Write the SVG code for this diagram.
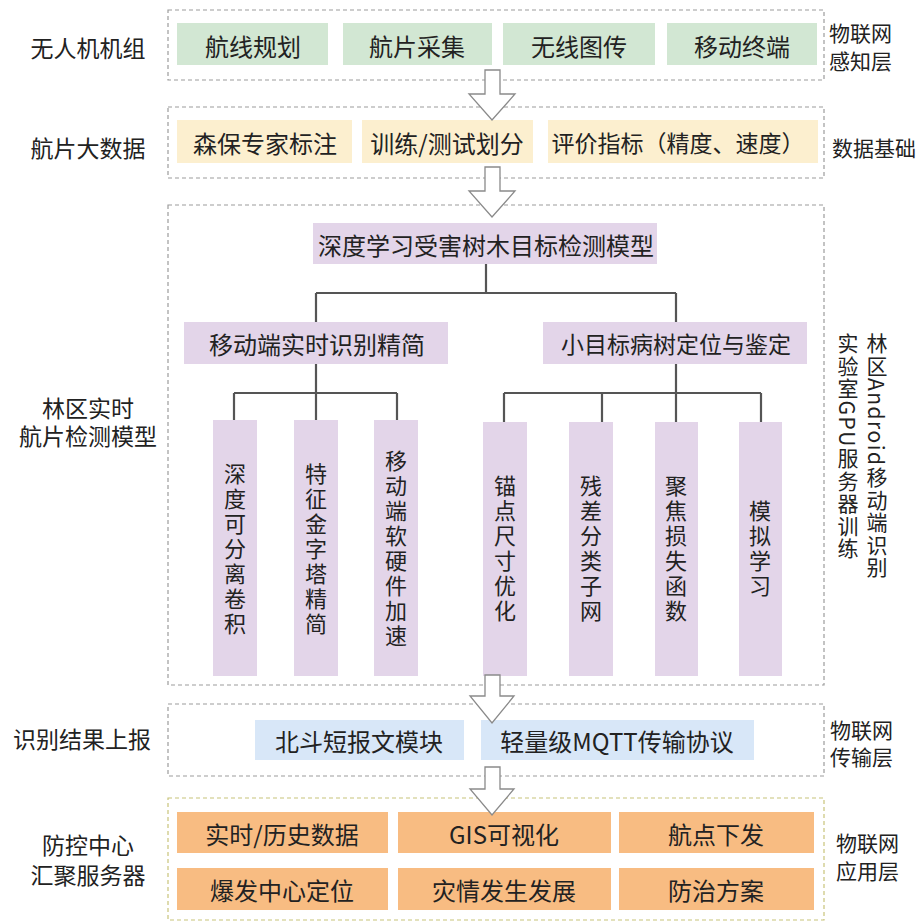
<svg xmlns="http://www.w3.org/2000/svg" width="921" height="922" viewBox="0 0 921 922">
<style>
text { font-family: "Noto Sans CJK SC", "Noto Sans", sans-serif; fill: #222; }
.h { text-anchor: middle; dominant-baseline: central; font-size: 24px; }
.lab { text-anchor: middle; dominant-baseline: central; font-size: 23px; }
.rl { text-anchor: start; dominant-baseline: central; font-size: 21px; }
.v { writing-mode: vertical-rl; text-anchor: middle; font-size: 22px; letter-spacing: 3px; }
.vr { writing-mode: vertical-rl; text-anchor: start; font-size: 21px; letter-spacing: 1.5px; }
.layer { fill: none; stroke: #9c9c9c; stroke-width: 1.2; stroke-dasharray: 4 3; }
.layer5 { fill: none; stroke: #c8c47a; stroke-width: 1.2; stroke-dasharray: 4 3; }
.g { fill: #d2e7d3; }
.y { fill: #fcefcf; }
.p { fill: #e3d5e9; }
.b { fill: #d8e7f8; }
.o { fill: #f8bc82; }
.line { fill: none; stroke: #555; stroke-width: 2.2; }
.arrow { fill: #fff; stroke: #8a8a8a; stroke-width: 1.3; stroke-linejoin: miter; }
</style>

<!-- layer frames -->
<g id="layers">
  <rect class="layer" x="168" y="10" width="656" height="70"/>
  <rect class="layer" x="168" y="107" width="656" height="71"/>
  <rect class="layer" x="168" y="205" width="656" height="480"/>
  <rect class="layer" x="168" y="704" width="656" height="72"/>
  <rect class="layer5" x="168" y="798" width="656" height="122"/>
</g>

<!-- left labels -->
<g id="left-labels">
  <text class="lab" x="88" y="47">无人机机组</text>
  <text class="lab" x="88" y="147">航片大数据</text>
  <text class="lab"><tspan x="88" y="407">林区实时</tspan><tspan x="88" y="435">航片检测模型</tspan></text>
  <text class="lab" x="82" y="738">识别结果上报</text>
  <text class="lab"><tspan x="88" y="844">防控中心</tspan><tspan x="88" y="874">汇聚服务器</tspan></text>
</g>

<!-- right labels -->
<g id="right-labels">
  <text class="rl"><tspan x="829" y="32">物联网</tspan><tspan x="829" y="60">感知层</tspan></text>
  <text class="rl" x="832" y="147">数据基础</text>
  <text class="vr" x="877" y="333">林区Android移动端识别</text>
  <text class="vr" x="848" y="333">实验室GPU服务器训练</text>
  <text class="rl"><tspan x="830" y="729">物联网</tspan><tspan x="830" y="756">传输层</tspan></text>
  <text class="rl"><tspan x="836" y="842">物联网</tspan><tspan x="836" y="870">应用层</tspan></text>
</g>

<!-- layer 1 -->
<g id="n-hxgh"><rect class="g" x="177" y="23" width="151" height="42"/><text class="h" x="253" y="45">航线规划</text></g>
<g id="n-hpcj"><rect class="g" x="343" y="23" width="149" height="42"/><text class="h" x="417" y="45">航片采集</text></g>
<g id="n-wxtc"><rect class="g" x="503" y="23" width="152" height="42"/><text class="h" x="579" y="45">无线图传</text></g>
<g id="n-ydzd"><rect class="g" x="667" y="23" width="150" height="42"/><text class="h" x="742" y="45">移动终端</text></g>

<!-- layer 2 -->
<g id="n-sbzj"><rect class="y" x="177" y="120" width="175" height="43"/><text class="h" x="265" y="142">森保专家标注</text></g>
<g id="n-xlcs"><rect class="y" x="362" y="120" width="171" height="43"/><text class="h" x="447" y="142">训练/测试划分</text></g>
<g id="n-pjzb"><rect class="y" x="548" y="120" width="270" height="43"/><text class="h" x="678" y="142" style="font-size:23px">评价指标（精度、速度）</text></g>

<!-- layer 3 -->
<g id="n-model"><rect class="p" x="313" y="223" width="344" height="41"/><text class="h" x="486" y="244">深度学习受害树木目标检测模型</text></g>
<g id="n-mobile"><rect class="p" x="184" y="322" width="264" height="42"/><text class="h" x="317" y="343">移动端实时识别精简</text></g>
<g id="n-small"><rect class="p" x="543" y="322" width="264" height="42"/><text class="h" x="676" y="343" style="font-size:23px">小目标病树定位与鉴定</text></g>

<g id="n-l1"><rect class="p" x="213" y="420" width="44" height="256"/><text class="v" x="235" y="550">深度可分离卷积</text></g>
<g id="n-l2"><rect class="p" x="294" y="420" width="44" height="256"/><text class="v" x="316" y="550">特征金字塔精简</text></g>
<g id="n-l3"><rect class="p" x="374" y="420" width="44" height="256"/><text class="v" x="396" y="550">移动端软硬件加速</text></g>
<g id="n-r1"><rect class="p" x="483" y="422" width="44" height="254"/><text class="v" x="505" y="550">锚点尺寸优化</text></g>
<g id="n-r2"><rect class="p" x="569" y="422" width="44" height="254"/><text class="v" x="591" y="550">残差分类子网</text></g>
<g id="n-r3"><rect class="p" x="655" y="422" width="43" height="254"/><text class="v" x="676" y="550">聚焦损失函数</text></g>
<g id="n-r4"><rect class="p" x="739" y="422" width="43" height="254"/><text class="v" x="760" y="550">模拟学习</text></g>

<!-- layer 4 -->
<g id="n-bd"><rect class="b" x="255" y="720" width="209" height="40"/><text class="h" x="359" y="740">北斗短报文模块</text></g>
<g id="n-mqtt"><rect class="b" x="481" y="720" width="273" height="40"/><text class="h" x="617" y="740">轻量级MQTT传输协议</text></g>

<!-- layer 5 -->
<g id="n-ss"><rect class="o" x="177" y="812" width="211" height="41"/><text class="h" x="282" y="833">实时/历史数据</text></g>
<g id="n-gis"><rect class="o" x="398" y="812" width="213" height="41"/><text class="h" x="504" y="833">GIS可视化</text></g>
<g id="n-hd"><rect class="o" x="619" y="812" width="195" height="41"/><text class="h" x="716" y="833">航点下发</text></g>
<g id="n-bf"><rect class="o" x="177" y="868" width="211" height="42"/><text class="h" x="282" y="889">爆发中心定位</text></g>
<g id="n-zq"><rect class="o" x="398" y="868" width="213" height="42"/><text class="h" x="504" y="889">灾情发生发展</text></g>
<g id="n-fz"><rect class="o" x="619" y="868" width="195" height="42"/><text class="h" x="716" y="889">防治方案</text></g>

<!-- connectors -->
<g id="connectors">
  <path class="line" d="M486 264 V293 M316 293 H676 M316 293 V322 M676 293 V322"/>
  <path class="line" d="M316 364 V393 M234 393 H397 M234 393 V420 M316 393 V420 M397 393 V420"/>
  <path class="line" d="M676 364 V393 M504 393 H761 M504 393 V422 M602 393 V422 M676 393 V422 M761 393 V422"/>
  <path class="arrow" d="M485 70 H500 V94 H515 L492 120 L469 94 H485 Z"/>
  <path class="arrow" d="M485 167 H500 V191 H515 L492 217 L469 191 H485 Z"/>
  <path class="arrow" d="M485 675 H500 V696 H514 L492 723 L470 696 H485 Z"/>
  <path class="arrow" d="M485 767 H500 V789 H514 L492 815 L470 789 H485 Z"/>
</g>
</svg>
